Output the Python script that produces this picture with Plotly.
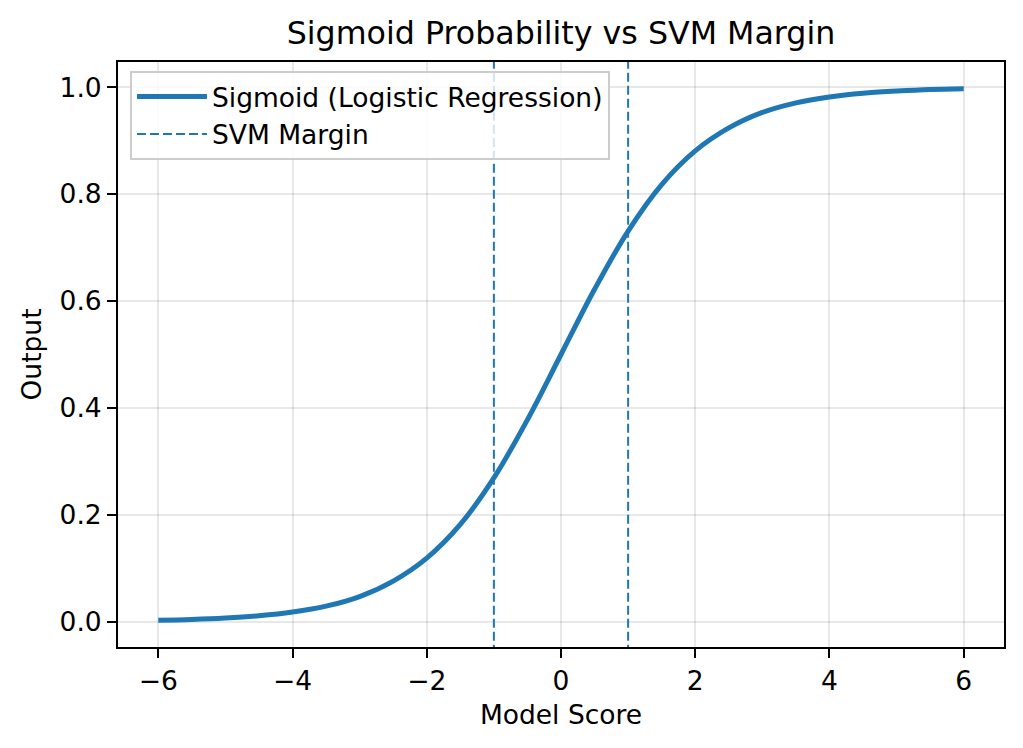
import plotly.graph_objects as go

# Values
score = [-6, -5.5, -5, -4.5, -4, -3.5, -3, -2.5, -2, -1.5, -1, -0.5, 0,
         0.5, 1, 1.5, 2, 2.5, 3, 3.5, 4, 4.5, 5, 5.5, 6]
output = [0.0025, 0.004, 0.0067, 0.011, 0.018, 0.029, 0.047, 0.076, 0.119,
          0.182, 0.269, 0.378, 0.5, 0.622, 0.731, 0.818, 0.881, 0.924, 0.953,
          0.971, 0.982, 0.989, 0.993, 0.996, 0.9975]
margins = [-1, 1]
x_ticks = [-6, -4, -2, 0, 2, 4, 6]
x_tick_text = ["\u22126", "\u22124", "\u22122", "0", "2", "4", "6"]
y_ticks = [0.0, 0.2, 0.4, 0.6, 0.8, 1.0]
y_tick_text = ["0.0", "0.2", "0.4", "0.6", "0.8", "1.0"]

blue = "#1f77b4"
font = "DejaVu Sans"
fs = 26.5

fig = go.Figure()
fig.add_trace(go.Scatter(x=score, y=output, mode="lines", name="Sigmoid (Logistic Regression)",
                         line=dict(color=blue, width=5, shape="spline")))
for i, m in enumerate(margins):
    fig.add_trace(go.Scatter(x=[m, m], y=[-0.06, 1.06], mode="lines", name="SVM Margin",
                             showlegend=(i == 0),
                             line=dict(color=blue, width=2, dash="9px,4px")))

axis_common = dict(showline=True, linecolor="black", linewidth=2, mirror=True,
                   ticks="outside", ticklen=9, tickwidth=2, tickcolor="black",
                   showgrid=True, gridcolor="rgba(0,0,0,0.09)", gridwidth=1.5,
                   zeroline=False, tickfont=dict(family=font, size=fs, color="black"))

fig.update_layout(
    width=1023, height=748,
    paper_bgcolor="white", plot_bgcolor="white",
    margin=dict(l=118, r=19, t=62, b=101),
    title=dict(text="Sigmoid Probability vs SVM Margin", x=0.5, xanchor="center",
               xref="paper",
               y=1 - 33 / 748, yanchor="middle",
               font=dict(family=font, size=31.7, color="black")),
    xaxis=dict(range=[-6.6, 6.6], tickvals=x_ticks, ticktext=x_tick_text,
               title=dict(text="Model Score", font=dict(family=font, size=fs, color="black"), standoff=11),
               **axis_common),
    yaxis=dict(range=[-0.0474, 1.0474], tickvals=y_ticks, ticktext=y_tick_text,
               title=dict(text="Output", font=dict(family=font, size=fs, color="black"), standoff=10),
               **axis_common),
    legend=dict(x=0.0135, y=0.985, xanchor="left", yanchor="top",
                bgcolor="rgba(255,255,255,0.8)", bordercolor="#cccccc", borderwidth=2,
                font=dict(family=font, size=fs, color="black"),
                itemwidth=70, tracegroupgap=0),
    showlegend=True,
)

fig.write_html("out.html", config={"displayModeBar": False})

with open("out.html", "r", encoding="utf-8") as f:
    html = f.read()
html = html.replace("<body>", '<body style="margin:0;padding:0;overflow:hidden">', 1)
with open("out.html", "w", encoding="utf-8") as f:
    f.write(html)
